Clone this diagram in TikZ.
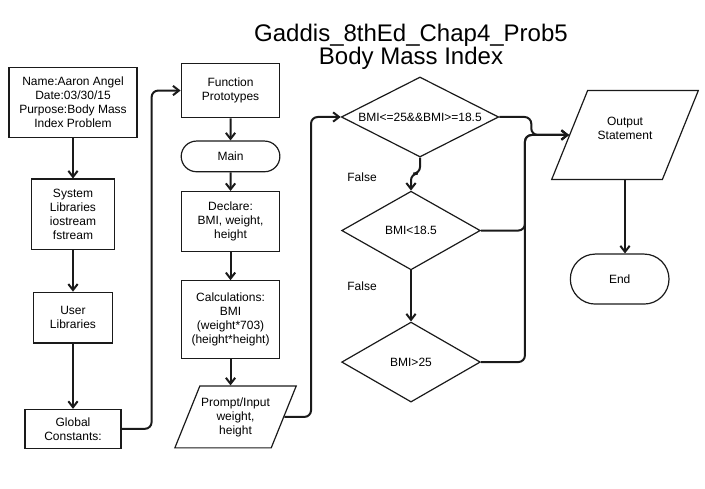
\documentclass[tikz,border=0pt]{standalone}
\usepackage{fontspec}
\setmainfont{Liberation Sans}
\usepackage{tikz}
\usetikzlibrary{positioning,shapes.geometric,shapes.misc,arrows.meta,calc}
\definecolor{ink}{HTML}{1A1A1A}

\begin{document}
\begin{tikzpicture}[
  box/.style={
    draw=ink,
    line width=0.9pt,
    shape=rectangle,
    align=center,
    font=\fontsize{9}{10.5}\selectfont,
    inner sep=1pt,
  },
  term/.style={
    box,
    shape=rounded rectangle,
  },
  io/.style={
    box,
    shape=trapezium,
    trapezium left angle=68,
    trapezium right angle=112,
    trapezium stretches body,
  },
  cond/.style={
    box,
    shape=diamond,
    aspect=2,
    inner sep=0pt,
  },
  note/.style={
    font=\fontsize{9}{10.5}\selectfont,
  },
  line/.style={
    line width=1.5pt,
    draw=ink,
    rounded corners=5pt,
    -{Straight Barb[length=4.5pt,width=7pt]},
  }]
  \useasboundingbox (0,0) rectangle (528.75pt,-366pt);
  \node[note, font=\fontsize{18}{16.2}\selectfont, align=center] (title) at (308.25pt,-35pt) {Gaddis\_8thEd\_Chap4\_Prob5\\Body Mass Index};

  \node[box, minimum width=96pt, minimum height=53pt] (info) at (54.75pt,-76.9pt) {Name:Aaron Angel\\Date:03/30/15\\Purpose:Body Mass\\Index Problem};
  \node[box, minimum width=62pt, minimum height=53pt, below=30pt of info] (syslib) {System\\Libraries\\iostream\\fstream};
  \node[box, minimum width=59pt, minimum height=38pt, below=31pt of syslib] (userlib) {User\\Libraries};
  \node[box, minimum width=72pt, minimum height=29pt, below=49pt of userlib] (global) {Global\\Constants:};

  \node[box, minimum width=74pt, minimum height=41pt] (proto) at (172.9pt,-67.9pt) {Function\\Prototypes};
  \node[term, minimum width=76pt, minimum height=23pt, below=16.5pt of proto] (main) {Main};
  \node[box, minimum width=74pt, minimum height=45pt, below=14pt of main] (declare) {Declare:\\BMI, weight,\\height};
  \node[box, minimum width=74pt, minimum height=58.5pt, below=21pt of declare] (calc) {Calculations:\\BMI\\(weight*703)\\(height*height)};
  \node[io, minimum width=91pt, inner ysep=8.5pt, below=19.5pt of calc, xshift=3.75pt] (input) {Prompt/Input\\weight,\\height};

  \node[cond, minimum width=118pt, minimum height=60pt] (cond1) at (315pt,-87.75pt) {BMI<=25\&\&BMI>=18.5};
  \node[cond, minimum width=104pt, minimum height=59pt, below=24.75pt of cond1, xshift=-6.75pt] (cond2) {BMI<18.5};
  \node[cond, minimum width=104pt, minimum height=60pt, below=38.25pt of cond2] (cond3) {BMI>25};
  \node[note] (false1) at (271.5pt,-132.75pt) {False};
  \node[note] (false2) at (271.5pt,-214.5pt) {False};

  \node[io, minimum width=110pt, inner ysep=19.75pt, text depth=10.5pt] (output) at (468.75pt,-101.25pt) {Output\\Statement};
  \node[term, minimum width=76pt, minimum height=37.5pt, below=55pt of output, xshift=-4pt] (end) {End};

  \draw[line] (info) -- (syslib);
  \draw[line] (syslib) -- (userlib);
  \draw[line] (userlib) -- (global);
  \draw[line] (global.east) -- ++(22.5pt,0) |- (proto.west);
  \draw[line] (proto) -- (main);
  \draw[line] (main) -- (declare);
  \draw[line] (declare) -- (calc);
  \draw[line] (calc.south) -- (calc.south |- input.north);
  \draw[line] (input.east) -- ++(20pt,0) |- (cond1.west);
  \draw[line] (cond1.east) -- ++(24pt,0) |- (output.west);
  \draw[line] (cond1.south) -- ++(0,-12pt) -| (cond2.north);
  \draw[line] (cond2.east) -- ++(33pt,0) |- (output.west);
  \draw[line] (cond2.south) -- (cond3.north);
  \draw[line] (cond3.east) -- ++(33pt,0) |- (output.west);
  \draw[line] (output.south) -- (output.south |- end.north);
\end{tikzpicture}
\end{document}
